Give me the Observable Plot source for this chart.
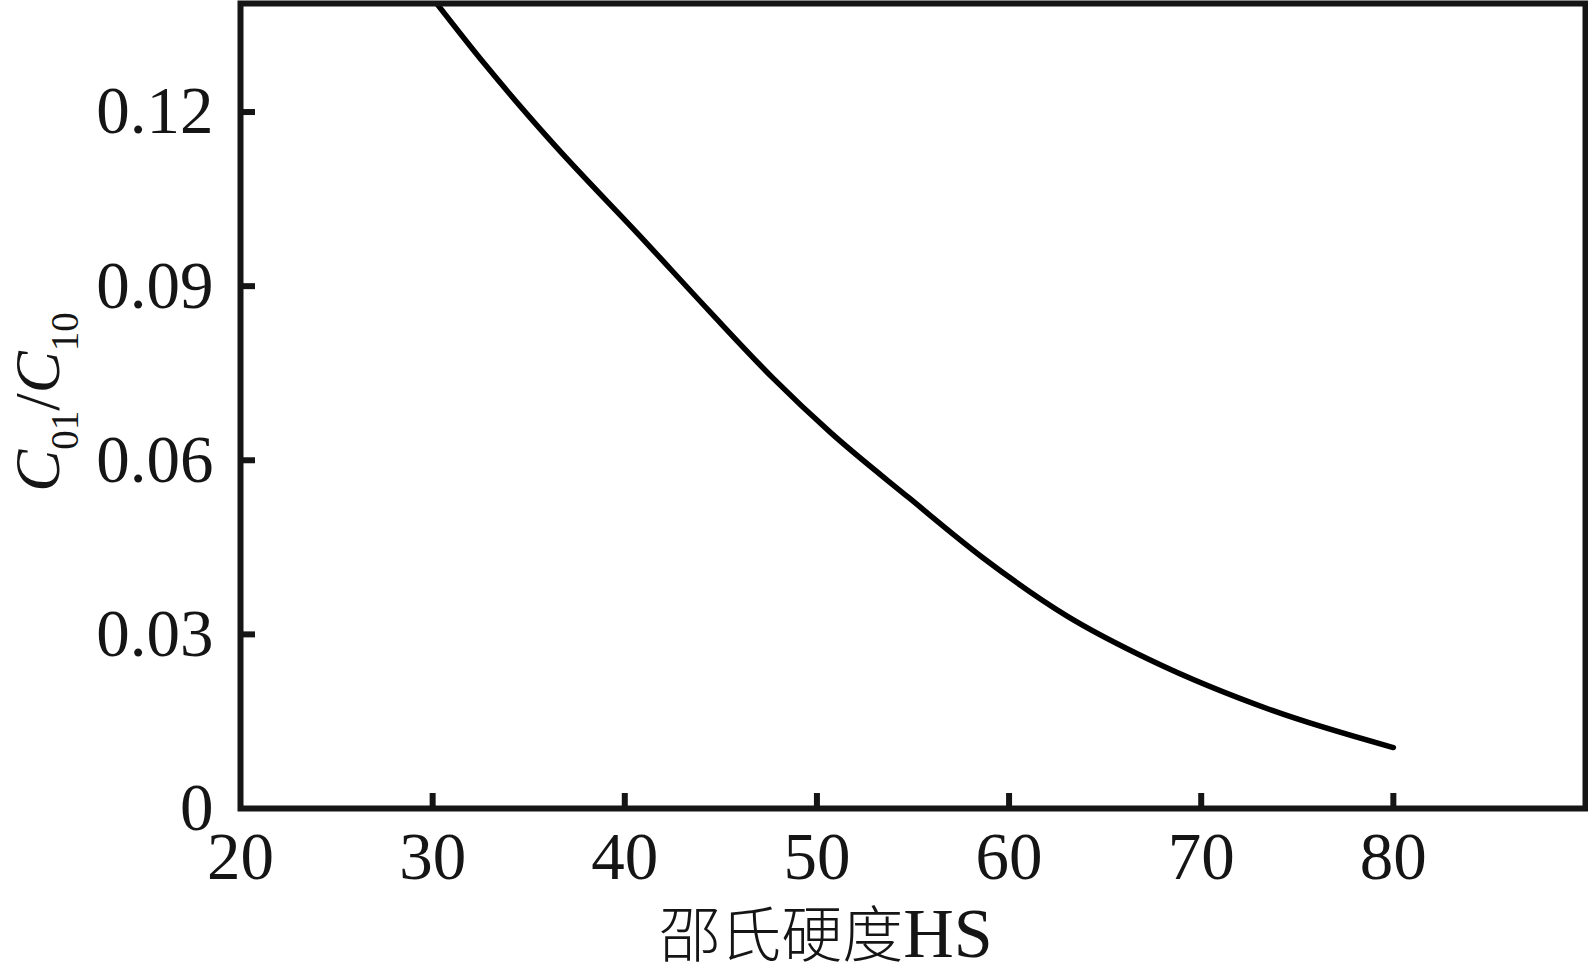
<!DOCTYPE html>
<html>
<head>
<meta charset="utf-8">
<script src="https://cdn.jsdelivr.net/npm/d3@7"></script>
<script src="https://cdn.jsdelivr.net/npm/@observablehq/plot@0.6"></script>
<style>
  html, body { margin: 0; padding: 0; background: #fff; }
  #chart svg { display: block; }
</style>
</head>
<body>
<div id="chart"></div>
<script>
// Shore hardness (HS) values along the curve
const hardness = [30.0, 32.7, 36.1, 41.0, 44.4, 47.7, 50.7, 54.8, 58.6, 63.0, 67.4, 73.7, 80.0];
// C01/C10 ratio
const ratio    = [0.1396, 0.1283, 0.1152, 0.0979, 0.0857, 0.0742, 0.0648, 0.0535, 0.0433, 0.0332, 0.0255, 0.0169, 0.0105];

const xTicks = [20, 30, 40, 50, 60, 70, 80];
const yTicks = [0, 0.03, 0.06, 0.09, 0.12];
const yTickLabels = ["0", "0.03", "0.06", "0.09", "0.12"];
const xLabelCJK = "邵氏硬度";
const xLabelLatin = "HS";

const data = hardness.map((h, i) => ({h, r: ratio[i]}));

const W = 1588, H = 977;
const mL = 240, mR = 3, mT = 3, mB = 169;
const innerW = W - mL - mR, innerH = H - mT - mB;
const tickLen = 15;
const ink = "#151515";
const serif = "'Liberation Serif', 'Times New Roman', serif";

const svg = Plot.plot({
  width: W,
  height: H,
  marginLeft: mL,
  marginRight: mR,
  marginTop: mT,
  marginBottom: mB,
  style: {fontFamily: serif, color: ink, background: "#fff"},
  x: {domain: [20, 90]},
  y: {domain: [0, 0.1387]},
  marks: [
    Plot.line(data, {x: "h", y: "r", stroke: "#000", strokeWidth: 5.5, curve: "monotone-x", clip: "frame"}),
    // inward tick marks
    Plot.tickX(xTicks.filter(d => d > 20), {x: d => d, stroke: ink, strokeWidth: 6, insetTop: innerH - tickLen}),
    Plot.tickY(yTicks.filter(d => d > 0), {y: d => d, stroke: ink, strokeWidth: 6, insetRight: innerW - tickLen}),
    Plot.frame({stroke: ink, strokeWidth: 6}),
    Plot.axisX({ticks: xTicks, tickSize: 0, tickPadding: 23, fontSize: 67, fontFamily: serif, label: null, tickFormat: d => String(d)}),
    Plot.axisY({ticks: yTicks, tickSize: 0, tickPadding: 27, fontSize: 67, fontFamily: serif, label: null,
      tickFormat: d => yTickLabels[yTicks.indexOf(d)]})
  ]
});

const s = d3.select(svg);
// Y axis label with subscripts
const yl = s.append("text")
  .attr("transform", "translate(59,402) rotate(-90)")
  .attr("text-anchor", "middle")
  .attr("fill", ink)
  .style("font-family", serif)
  .style("font-size", "63px");
yl.append("tspan").attr("font-style", "italic").text("C");
yl.append("tspan").attr("font-size", "39px").attr("dy", 19).text("01");
yl.append("tspan").attr("dy", -19).text("/");
yl.append("tspan").attr("font-style", "italic").text("C");
yl.append("tspan").attr("font-size", "39px").attr("dy", 19).text("10");

// X axis label
const xl = s.append("text")
  .attr("x", 826)
  .attr("y", 957)
  .attr("text-anchor", "middle")
  .attr("fill", ink)
  .style("font-family", "'Liberation Serif', 'Noto Sans CJK SC', serif");
xl.append("tspan").style("font-family", "'Noto Sans CJK SC', sans-serif").style("font-size", "61px").style("font-weight", "300").text(xLabelCJK);
xl.append("tspan").style("font-size", "70px").text(xLabelLatin);

document.getElementById("chart").appendChild(svg);
</script>
</body>
</html>
